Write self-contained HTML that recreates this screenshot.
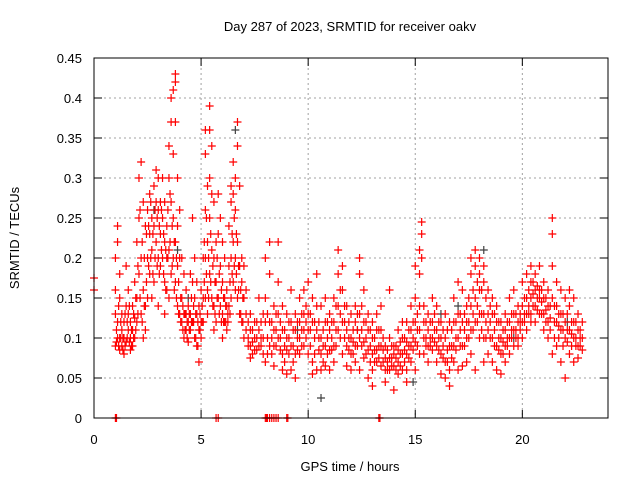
<!DOCTYPE html>
<html><head><meta charset="utf-8"><style>
html,body{margin:0;padding:0;background:#fff;}
svg{display:block;font-family:"Liberation Sans",sans-serif;}
</style></head><body>
<svg id="chart" width="640" height="480">
<text x="350" y="31" text-anchor="middle" font-size="13">Day 287 of 2023, SRMTID for receiver oakv</text>
<text x="350" y="471" text-anchor="middle" font-size="13">GPS time / hours</text>
<text transform="translate(19,238) rotate(-90)" text-anchor="middle" font-size="13">SRMTID / TECUs</text>
<g id="grid"></g>
<g id="axes"></g>
<g id="gray"></g>
<g id="red"></g>
<rect x="94" y="58" width="514" height="360" fill="none" stroke="#000" stroke-width="1"/>
</svg>
<script>
const xTicks=[0,5,10,15,20];
const yTicks=[0,0.05,0.1,0.15,0.2,0.25,0.3,0.35,0.4,0.45];
const yTickLabels=["0","0.05","0.1","0.15","0.2","0.25","0.3","0.35","0.4","0.45"];
const hours=[0.0,1.0,1.1,1.2,1.3,1.4,1.5,1.6,1.7,1.8,1.9,2.0,2.1,2.2,2.3,2.4,2.5,2.6,2.7,2.8,2.9,3.0,3.1,3.2,3.3,3.4,3.5,3.6,3.7,3.8,3.9,4.0,4.1,4.2,4.3,4.4,4.5,4.6,4.7,4.8,4.9,5.0,5.1,5.2,5.3,5.4,5.5,5.6,5.7,5.8,5.9,6.0,6.1,6.2,6.3,6.4,6.5,6.6,6.7,6.8,6.9,7.0,7.1,7.3,7.5,7.7,7.9,8.0,8.2,8.4,8.6,8.8,9.0,9.2,9.4,9.6,9.8,10.0,10.2,10.4,10.6,10.8,11.0,11.2,11.4,11.6,11.8,12.0,12.2,12.4,12.6,12.8,13.0,13.2,13.4,13.6,13.8,14.0,14.2,14.4,14.6,14.8,15.0,15.2,15.3,15.4,15.6,15.8,16.0,16.2,16.4,16.6,16.8,17.0,17.2,17.4,17.6,17.8,18.0,18.2,18.4,18.6,18.8,19.0,19.2,19.4,19.6,19.8,20.0,20.2,20.4,20.6,20.8,21.0,21.2,21.4,21.6,21.8,22.0,22.2,22.4,22.6,22.8];
const values=[[0.175,0.16],[0.09,0.13,0.16,0.2],[0.24,0.22,0.12,0.1],[0.18,0.15,0.1,0.085],[0.13,0.11,0.09],[0.12,0.1,0.08],[0.19,0.14,0.095],[0.16,0.13,0.11],[0.12,0.1,0.085],[0.14,0.11,0.09],[0.17,0.125,0.1],[0.22,0.15,0.12],[0.3,0.25,0.18],[0.32,0.2,0.13],[0.27,0.16,0.1],[0.24,0.14,0.11],[0.26,0.2,0.15],[0.28,0.23,0.18],[0.25,0.21,0.15],[0.29,0.24,0.17],[0.31,0.27,0.22],[0.3,0.26,0.2,0.14],[0.27,0.23,0.19],[0.3,0.25,0.2],[0.27,0.22,0.17,0.13],[0.24,0.2,0.16],[0.34,0.3,0.21,0.15],[0.4,0.37,0.27,0.18],[0.41,0.33,0.25,0.2],[0.43,0.42,0.37,0.22,0.17],[0.3,0.24,0.19,0.14],[0.26,0.2,0.13],[0.2,0.15,0.12],[0.18,0.13,0.1],[0.16,0.13,0.11],[0.14,0.12,0.095],[0.18,0.13,0.11],[0.25,0.17,0.12],[0.2,0.15,0.1],[0.17,0.13,0.09],[0.14,0.11,0.07],[0.16,0.12,0.1],[0.2,0.15,0.12],[0.36,0.33,0.26,0.2,0.15],[0.29,0.22,0.16,0.13],[0.39,0.36,0.3,0.25,0.18],[0.34,0.28,0.21,0.15],[0.27,0.2,0.14,0.11],[0.22,0.17,0.12],[0.28,0.23,0.15],[0.25,0.19,0.14],[0.22,0.17,0.13,0.1],[0.2,0.15,0.12],[0.16,0.14,0.11],[0.24,0.19,0.14],[0.29,0.27,0.2,0.15],[0.32,0.28,0.22,0.17],[0.3,0.26,0.2,0.16],[0.37,0.34,0.22,0.15],[0.29,0.19,0.13],[0.2,0.17,0.12],[0.19,0.15,0.1],[0.16,0.13,0.11],[0.13,0.11,0.09,0.075],[0.12,0.1,0.085],[0.15,0.11,0.09],[0.13,0.1,0.08],[0.2,0.15,0.12,0.07],[0.22,0.18,0.12,0.09],[0.14,0.11,0.09,0.065],[0.22,0.17,0.13,0.1],[0.14,0.11,0.08,0.06],[0.13,0.1,0.085,0.055],[0.16,0.12,0.09,0.06],[0.13,0.11,0.08,0.05],[0.15,0.12,0.1,0.08],[0.16,0.13,0.11,0.09],[0.17,0.13,0.11,0.08],[0.15,0.12,0.07,0.055],[0.18,0.14,0.11,0.06],[0.14,0.1,0.08,0.06],[0.15,0.12,0.09,0.065],[0.13,0.11,0.085,0.06],[0.15,0.12,0.09,0.07],[0.21,0.18,0.14,0.11],[0.19,0.16,0.12,0.08],[0.14,0.11,0.09,0.065],[0.13,0.1,0.08,0.06],[0.14,0.12,0.09,0.07],[0.2,0.18,0.13,0.1,0.06],[0.16,0.12,0.095,0.075],[0.13,0.11,0.085,0.05],[0.12,0.1,0.08,0.06,0.04],[0.13,0.11,0.085,0.07],[0.14,0.11,0.09,0.065],[0.09,0.075,0.06,0.045],[0.16,0.1,0.075,0.06],[0.09,0.08,0.065,0.035],[0.11,0.085,0.07,0.055],[0.12,0.1,0.08,0.06],[0.12,0.095,0.08,0.06,0.045],[0.14,0.11,0.09,0.07],[0.19,0.15,0.12,0.095,0.06],[0.21,0.18,0.14,0.11,0.08],[0.245,0.23,0.2],[0.14,0.12,0.1,0.08],[0.13,0.11,0.09,0.07],[0.15,0.12,0.1,0.085],[0.14,0.11,0.09,0.07],[0.12,0.1,0.08,0.055],[0.13,0.1,0.07,0.05],[0.12,0.09,0.06,0.04],[0.15,0.12,0.09,0.07],[0.17,0.13,0.1,0.06],[0.16,0.12,0.09,0.065],[0.14,0.12,0.1,0.07],[0.2,0.18,0.14,0.11,0.08],[0.21,0.19,0.15,0.12,0.06],[0.2,0.18,0.16,0.13,0.1],[0.19,0.17,0.13,0.1,0.07],[0.16,0.13,0.11,0.08],[0.15,0.13,0.1,0.07],[0.14,0.12,0.09,0.06],[0.12,0.1,0.08,0.055],[0.13,0.11,0.09,0.07],[0.15,0.12,0.1,0.08],[0.16,0.13,0.11,0.09],[0.14,0.12,0.1,0.09],[0.17,0.14,0.12,0.1],[0.18,0.15,0.13,0.11],[0.19,0.17,0.15,0.13,0.12],[0.18,0.16,0.14,0.12],[0.19,0.16,0.15,0.13],[0.17,0.15,0.13,0.11],[0.16,0.14,0.12,0.1],[0.25,0.23,0.19,0.15,0.08],[0.17,0.14,0.12,0.09],[0.16,0.13,0.11,0.07],[0.15,0.12,0.1,0.05],[0.16,0.14,0.11,0.08],[0.15,0.12,0.1,0.07],[0.13,0.11,0.09,0.075],[0.12,0.1,0.085]];
const hours2=[1.05,1.15,1.25,1.35,1.45,1.55,1.65,1.75,1.85,1.95,2.05,2.15,2.25,2.35,2.45,2.55,2.65,2.75,2.85,2.95,3.05,3.15,3.25,3.35,3.45,3.55,3.65,3.75,3.85,3.95,4.05,4.15,4.25,4.35,4.45,4.55,4.65,4.75,4.85,4.95,5.05,5.15,5.25,5.35,5.45,5.55,5.65,5.75,5.85,5.95,6.05,6.15,6.25,6.35,6.45,6.55,6.65,6.75,6.85,6.95,7.2,7.4,7.6,7.8,8.1,8.3,8.5,8.7,8.9,9.1,9.3,9.5,9.7,9.9,10.1,10.3,10.5,10.7,10.9,11.1,11.3,11.5,11.7,11.9,12.1,12.3,12.5,12.7,12.9,13.1,13.3,13.5,13.7,13.9,14.1,14.3,14.5,14.7,14.9,15.1,15.5,15.7,15.9,16.1,16.3,16.5,16.7,16.9,17.1,17.3,17.5,17.7,17.9,18.1,18.3,18.5,18.7,18.9,19.1,19.3,19.5,19.7,19.9,20.1,20.3,20.5,20.7,20.9,21.1,21.3,21.5,21.7,21.9,22.1,22.3,22.5,22.7];
const values2=[[0.11,0.095],[0.14,0.09],[0.12,0.1],[0.1,0.085],[0.13,0.09],[0.12,0.1],[0.14,0.095],[0.11,0.09],[0.13,0.1],[0.15,0.11],[0.19,0.13],[0.26,0.15],[0.22,0.12],[0.2,0.14],[0.23,0.17],[0.24,0.19],[0.27,0.2],[0.23,0.18],[0.26,0.2],[0.25,0.19],[0.24,0.18],[0.26,0.21],[0.23,0.18],[0.21,0.16],[0.26,0.2],[0.28,0.22],[0.24,0.19],[0.22,0.16],[0.2,0.15],[0.17,0.13],[0.15,0.12],[0.14,0.11],[0.13,0.11],[0.12,0.1],[0.13,0.11],[0.15,0.12],[0.14,0.12],[0.13,0.1],[0.12,0.09],[0.13,0.11],[0.14,0.12],[0.22,0.17],[0.25,0.18],[0.2,0.15],[0.23,0.17],[0.19,0.14],[0.17,0.13],[0.2,0.15],[0.18,0.13],[0.16,0.12],[0.15,0.12],[0.14,0.12],[0.13,0.12],[0.17,0.13],[0.23,0.18],[0.25,0.19],[0.23,0.18],[0.19,0.16],[0.16,0.13],[0.15,0.12],[0.12,0.1,0.09],[0.11,0.095,0.08],[0.12,0.1,0.085],[0.12,0.1,0.09],[0.13,0.1,0.08],[0.12,0.1,0.08],[0.13,0.11,0.09],[0.12,0.1,0.085],[0.11,0.09,0.07],[0.12,0.1,0.08],[0.11,0.09,0.07],[0.12,0.1,0.085],[0.13,0.11,0.09],[0.14,0.12,0.1],[0.13,0.11,0.09],[0.12,0.1,0.08],[0.12,0.1,0.085],[0.11,0.09,0.07],[0.12,0.1,0.08],[0.12,0.1,0.085],[0.14,0.11,0.09],[0.16,0.13,0.1],[0.14,0.12,0.1],[0.12,0.1,0.085],[0.11,0.095,0.08],[0.13,0.11,0.09],[0.14,0.11,0.09],[0.12,0.1,0.08],[0.11,0.09,0.07],[0.1,0.085,0.07],[0.11,0.09,0.075],[0.1,0.085,0.07],[0.085,0.07,0.06],[0.09,0.075,0.065],[0.09,0.075,0.06],[0.095,0.08,0.065],[0.1,0.085,0.07],[0.11,0.09,0.075],[0.12,0.1,0.085],[0.13,0.11,0.09],[0.12,0.1,0.09],[0.12,0.1,0.09],[0.13,0.11,0.095],[0.12,0.1,0.085],[0.11,0.09,0.075],[0.11,0.085,0.07],[0.11,0.09,0.075],[0.12,0.1,0.085],[0.13,0.11,0.09],[0.13,0.11,0.09],[0.15,0.12,0.1],[0.16,0.13,0.11],[0.17,0.14,0.12],[0.16,0.13,0.11],[0.15,0.12,0.1],[0.14,0.12,0.1],[0.13,0.11,0.09],[0.12,0.1,0.085],[0.11,0.095,0.08],[0.12,0.1,0.09],[0.13,0.11,0.1],[0.13,0.11,0.1],[0.13,0.12,0.11],[0.15,0.13,0.12],[0.16,0.14,0.13],[0.17,0.155,0.14],[0.165,0.15,0.135],[0.16,0.145,0.13],[0.15,0.135,0.12],[0.14,0.125,0.11],[0.14,0.12,0.1],[0.13,0.115,0.1],[0.13,0.11,0.09],[0.13,0.11,0.095],[0.12,0.105,0.09],[0.12,0.1,0.09],[0.11,0.1,0.09]];
const grayHours=[2.8,3.9,6.6,9.5,10.6,14.9,17.0,18.2,22.1,4.4,12.3,16.2,19.6];
const grayValues=[0.26,0.21,0.36,0.11,0.025,0.045,0.14,0.21,0.12,0.15,0.11,0.13,0.1];
const zeroHours=[1.0,1.05,5.7,5.8,8.0,8.05,8.1,8.2,8.3,8.4,8.5,8.6,9.0,9.05,13.3,13.35];

const X0=94,X1=608,Y0=418,Y1=58,XMAX=24,YMAX=0.45;
const xs=h=>X0+(X1-X0)*h/XMAX;
const ys=v=>Y0-(Y0-Y1)*v/YMAX;
const NS='http://www.w3.org/2000/svg';
function mk(t,a){const e=document.createElementNS(NS,t);for(const k in a)e.setAttribute(k,a[k]);return e;}
const grid=document.getElementById('grid'),axes=document.getElementById('axes');
yTicks.forEach((v,i)=>{
  const y=ys(v);
  if(i>0&&i<yTicks.length-1){const g=mk('line',{x1:X0,x2:X1,y1:y,y2:y,stroke:'#a0a0a0','stroke-dasharray':'2,3'});
  
  grid.appendChild(g);}
  axes.appendChild(mk('line',{x1:X0,x2:X0+8,y1:y,y2:y,stroke:'#000'}));
  axes.appendChild(mk('line',{x1:X1-8,x2:X1,y1:y,y2:y,stroke:'#000'}));
  const l=mk('text',{x:X0-12,y:y+5,'text-anchor':'end','font-size':'13'});l.textContent=yTickLabels[i];
  
  axes.appendChild(l);
});
xTicks.forEach(h=>{
  const x=xs(h);
  if(h>0){const g=mk('line',{x1:x,x2:x,y1:Y1,y2:Y0,stroke:'#a0a0a0','stroke-dasharray':'2,3'});
  
  grid.appendChild(g);}
  axes.appendChild(mk('line',{x1:x,x2:x,y1:Y0,y2:Y0-8,stroke:'#000'}));
  axes.appendChild(mk('line',{x1:x,x2:x,y1:Y1,y2:Y1+8,stroke:'#000'}));
  const l=mk('text',{x:x,y:Y0+26,'text-anchor':'middle','font-size':'13'});l.textContent=String(h);
  
  axes.appendChild(l);
});
function plus(g,h,v,col,name){
  const x=xs(h),y=ys(v);
  const p=mk('path',{d:`M${x-4},${y}H${x+4}M${x},${y-4}V${y+4}`,stroke:col,'stroke-width':'1.2',fill:'none'});
  
  
  g.appendChild(p);
}
const gG=document.getElementById('gray'),gR=document.getElementById('red');
grayHours.forEach((h,i)=>plus(gG,h,grayValues[i],'#404040','gray-point'));
hours.forEach((h,i)=>values[i].forEach(v=>plus(gR,h,v,'#ff0000','srmtid-point')));
hours2.forEach((h,i)=>values2[i].forEach(v=>plus(gR,h,v,'#ff0000','srmtid-point')));
zeroHours.forEach(h=>plus(gR,h,0,'#ff0000','zero-point'));
</script>
</body></html>
